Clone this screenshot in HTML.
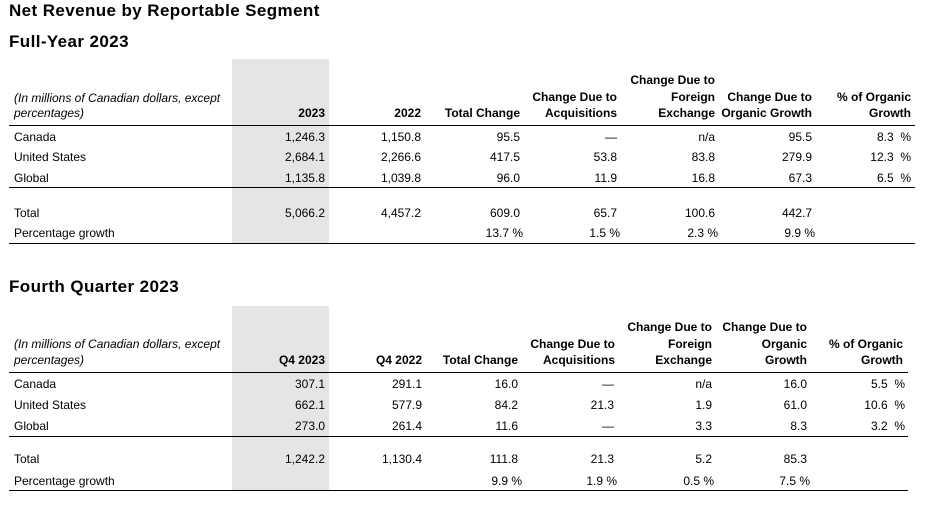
<!DOCTYPE html>
<html><head><meta charset="utf-8"><style>
body{margin:0;width:937px;height:507px;background:#fff;position:relative;overflow:hidden;font-family:"Liberation Sans",Arial,sans-serif;color:#000}
.t{position:absolute;font-size:12px;line-height:14px;white-space:nowrap}
.b{font-weight:bold}
.i{font-style:italic}
.h{position:absolute;font-weight:bold;font-size:17px;line-height:20px;letter-spacing:0.4px;left:9px;white-space:nowrap}
.g{position:absolute;background:#e6e5e5}
.l{position:absolute;height:1px;background:#000}
.r{text-align:right}
</style></head><body>
<div class="h" style="top:1px">Net Revenue by Reportable Segment</div>
<div class="h" style="top:32px">Full-Year 2023</div>
<div class="h" style="top:277px">Fourth Quarter 2023</div>

<div class="g" style="left:232px;top:59px;width:97px;height:184px"></div>
<div class="g" style="left:232px;top:306px;width:97px;height:184px"></div>

<div class="l" style="left:9px;width:906px;top:125px"></div>
<div class="l" style="left:9px;width:906px;top:187px"></div>
<div class="l" style="left:9px;width:906px;top:243px"></div>
<div class="l" style="left:9px;width:899px;top:372px"></div>
<div class="l" style="left:9px;width:899px;top:436px"></div>
<div class="l" style="left:9px;width:899px;top:490px"></div>

<!-- Table 1 header -->
<div class="t i" style="left:14px;top:91px">(In millions of Canadian dollars, except</div>
<div class="t i" style="left:14px;top:106px">percentages)</div>
<div class="t b" style="right:612px;top:106px">2023</div>
<div class="t b" style="right:516px;top:106px">2022</div>
<div class="t b" style="right:417px;top:106px">Total Change</div>
<div class="t b" style="right:320px;top:90px;text-align:center">Change Due to</div>
<div class="t b" style="right:320px;top:106px">Acquisitions</div>
<div class="t b r" style="right:222px;top:73px">Change Due to</div>
<div class="t b r" style="right:222px;top:90px">Foreign</div>
<div class="t b r" style="right:222px;top:106px">Exchange</div>
<div class="t b r" style="right:125px;top:90px">Change Due to</div>
<div class="t b r" style="right:125px;top:106px">Organic Growth</div>
<div class="t b r" style="right:26px;top:90px">% of Organic</div>
<div class="t b r" style="right:26px;top:106px">Growth</div>

<!-- Table 1 rows -->
<div class="t" style="left:14px;top:130px">Canada</div>
<div class="t" style="left:14px;top:150px">United States</div>
<div class="t" style="left:14px;top:171px">Global</div>
<div class="t" style="left:14px;top:206px">Total</div>
<div class="t" style="left:14px;top:226px">Percentage growth</div>

<div class="t" style="right:612px;top:130px">1,246.3</div>
<div class="t" style="right:612px;top:150px">2,684.1</div>
<div class="t" style="right:612px;top:171px">1,135.8</div>
<div class="t" style="right:612px;top:206px">5,066.2</div>

<div class="t" style="right:516px;top:130px">1,150.8</div>
<div class="t" style="right:516px;top:150px">2,266.6</div>
<div class="t" style="right:516px;top:171px">1,039.8</div>
<div class="t" style="right:516px;top:206px">4,457.2</div>

<div class="t" style="right:417px;top:130px">95.5</div>
<div class="t" style="right:417px;top:150px">417.5</div>
<div class="t" style="right:417px;top:171px">96.0</div>
<div class="t" style="right:417px;top:206px">609.0</div>
<div class="t" style="right:414px;top:226px">13.7 %</div>

<div class="t" style="right:320px;top:130px">—</div>
<div class="t" style="right:320px;top:150px">53.8</div>
<div class="t" style="right:320px;top:171px">11.9</div>
<div class="t" style="right:320px;top:206px">65.7</div>
<div class="t" style="right:317px;top:226px">1.5 %</div>

<div class="t" style="right:222px;top:130px">n/a</div>
<div class="t" style="right:222px;top:150px">83.8</div>
<div class="t" style="right:222px;top:171px">16.8</div>
<div class="t" style="right:222px;top:206px">100.6</div>
<div class="t" style="right:219px;top:226px">2.3 %</div>

<div class="t" style="right:125px;top:130px">95.5</div>
<div class="t" style="right:125px;top:150px">279.9</div>
<div class="t" style="right:125px;top:171px">67.3</div>
<div class="t" style="right:125px;top:206px">442.7</div>
<div class="t" style="right:122px;top:226px">9.9 %</div>

<div class="t" style="right:26px;top:130px">8.3&nbsp; %</div>
<div class="t" style="right:26px;top:150px">12.3&nbsp; %</div>
<div class="t" style="right:26px;top:171px">6.5&nbsp; %</div>

<!-- Table 2 header -->
<div class="t i" style="left:14px;top:337px">(In millions of Canadian dollars, except</div>
<div class="t i" style="left:14px;top:353px">percentages)</div>
<div class="t b" style="right:612px;top:353px">Q4 2023</div>
<div class="t b" style="right:515px;top:353px">Q4 2022</div>
<div class="t b" style="right:419px;top:353px">Total Change</div>
<div class="t b r" style="right:322px;top:337px">Change Due to</div>
<div class="t b r" style="right:322px;top:353px">Acquisitions</div>
<div class="t b r" style="right:225px;top:320px">Change Due to</div>
<div class="t b r" style="right:225px;top:337px">Foreign</div>
<div class="t b r" style="right:225px;top:353px">Exchange</div>
<div class="t b r" style="right:130px;top:320px">Change Due to</div>
<div class="t b r" style="right:130px;top:337px">Organic</div>
<div class="t b r" style="right:130px;top:353px">Growth</div>
<div class="t b r" style="right:34px;top:337px">% of Organic</div>
<div class="t b r" style="right:34px;top:353px">Growth</div>

<!-- Table 2 rows -->
<div class="t" style="left:14px;top:377px">Canada</div>
<div class="t" style="left:14px;top:398px">United States</div>
<div class="t" style="left:14px;top:419px">Global</div>
<div class="t" style="left:14px;top:452px">Total</div>
<div class="t" style="left:14px;top:474px">Percentage growth</div>

<div class="t" style="right:612px;top:377px">307.1</div>
<div class="t" style="right:612px;top:398px">662.1</div>
<div class="t" style="right:612px;top:419px">273.0</div>
<div class="t" style="right:612px;top:452px">1,242.2</div>

<div class="t" style="right:515px;top:377px">291.1</div>
<div class="t" style="right:515px;top:398px">577.9</div>
<div class="t" style="right:515px;top:419px">261.4</div>
<div class="t" style="right:515px;top:452px">1,130.4</div>

<div class="t" style="right:419px;top:377px">16.0</div>
<div class="t" style="right:419px;top:398px">84.2</div>
<div class="t" style="right:419px;top:419px">11.6</div>
<div class="t" style="right:419px;top:452px">111.8</div>
<div class="t" style="right:415px;top:474px">9.9 %</div>

<div class="t" style="right:323px;top:377px">—</div>
<div class="t" style="right:323px;top:398px">21.3</div>
<div class="t" style="right:323px;top:419px">—</div>
<div class="t" style="right:323px;top:452px">21.3</div>
<div class="t" style="right:320px;top:474px">1.9 %</div>

<div class="t" style="right:225px;top:377px">n/a</div>
<div class="t" style="right:225px;top:398px">1.9</div>
<div class="t" style="right:225px;top:419px">3.3</div>
<div class="t" style="right:225px;top:452px">5.2</div>
<div class="t" style="right:223px;top:474px">0.5 %</div>

<div class="t" style="right:130px;top:377px">16.0</div>
<div class="t" style="right:130px;top:398px">61.0</div>
<div class="t" style="right:130px;top:419px">8.3</div>
<div class="t" style="right:130px;top:452px">85.3</div>
<div class="t" style="right:127px;top:474px">7.5 %</div>

<div class="t" style="right:32px;top:377px">5.5&nbsp; %</div>
<div class="t" style="right:32px;top:398px">10.6&nbsp; %</div>
<div class="t" style="right:32px;top:419px">3.2&nbsp; %</div>
</body></html>
